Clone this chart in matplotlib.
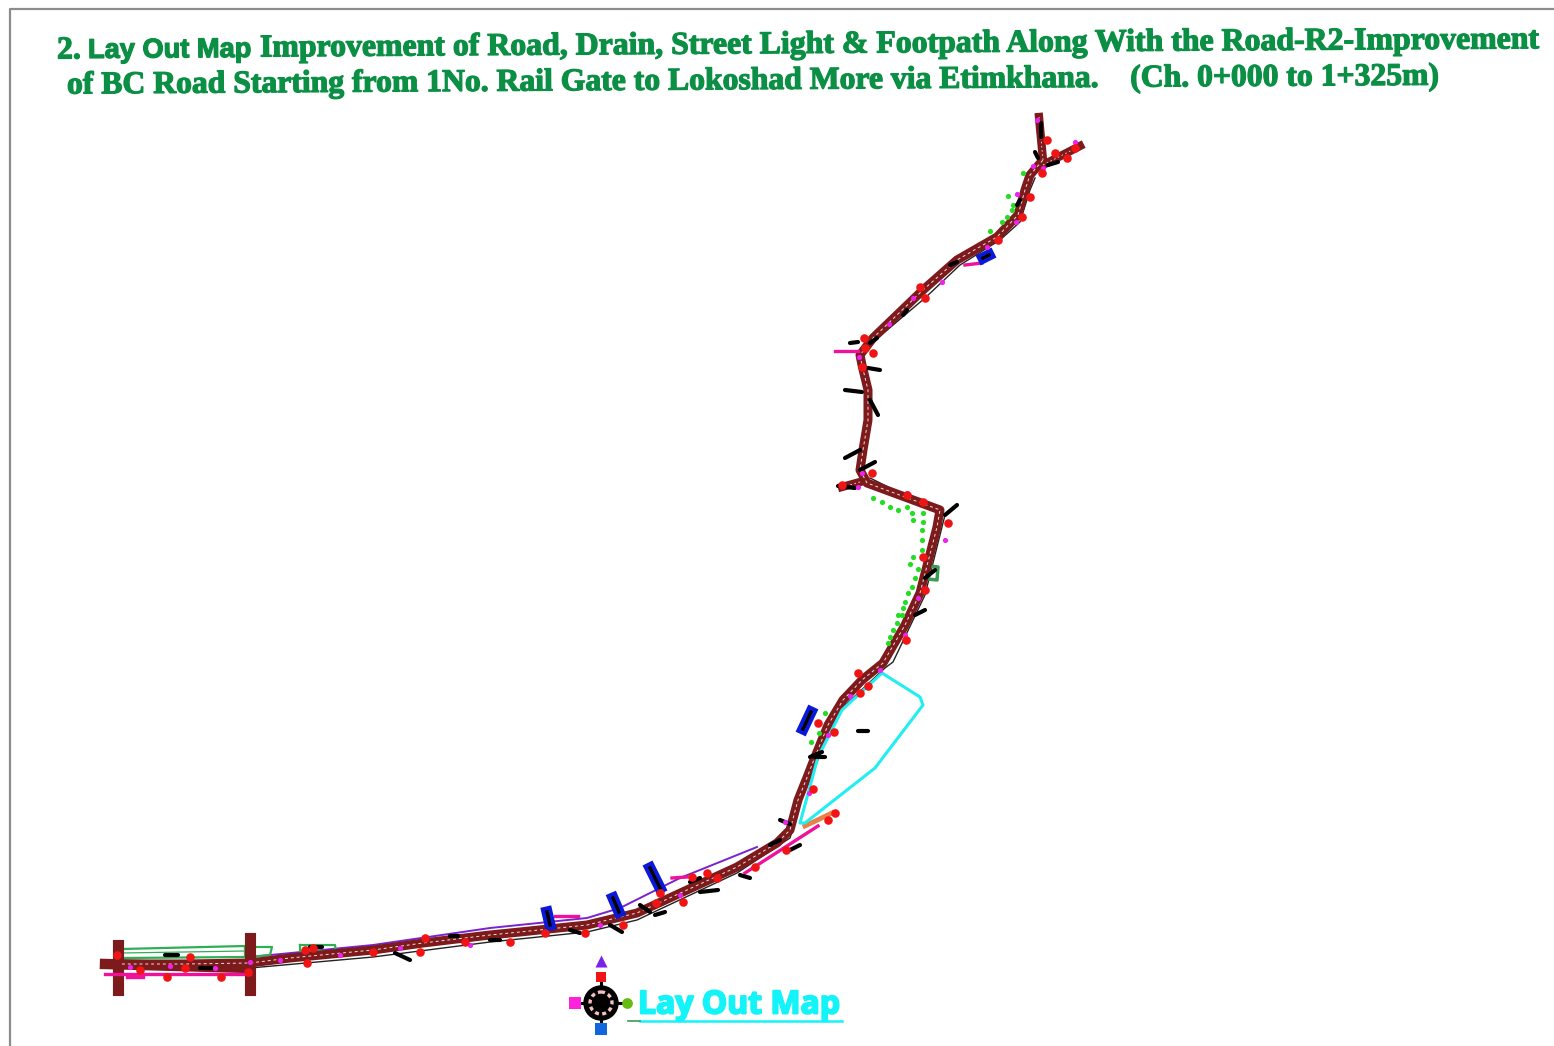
import matplotlib
matplotlib.use('Agg')
import matplotlib.pyplot as plt
import matplotlib.patheffects as pe
from matplotlib.patches import Circle

# everything in pixel positions
road_x = [122, 185, 250, 290, 373, 423, 490, 520, 587, 637, 687, 737, 777, 790, 798, 808, 815, 828, 843, 862, 883, 905, 920, 937, 940, 905, 867, 860, 863, 868, 868, 862, 860, 873, 923, 957, 997, 1018, 1025, 1030, 1043]
road_y = [964, 964, 963, 958, 950, 943, 935, 932, 925, 913, 890, 867, 843, 830, 800, 775, 757, 725, 700, 680, 663, 625, 593, 527, 510, 497, 483, 470, 450, 420, 390, 365, 355, 338, 290, 260, 237, 215, 190, 175, 160]
branch_a_x = [1043, 1039]
branch_a_y = [160, 117]
branch_b_x = [1043, 1080]
branch_b_y = [165, 146]
stub_x = [860, 842]
stub_y = [482, 487]
cross_x = [118, 250]
cross_top = [945, 938]
cross_bottom = [990, 990]

edge_x = [250, 373, 490, 587, 637, 737, 790, 810, 838, 885, 893, 925, 945, 870]
edge_y = [968, 957, 942, 932, 920, 873, 838, 770, 712, 668, 662, 595, 515, 478]
edge_top_x = [873, 925, 960, 1000, 1020, 1030, 1035]
edge_top_y = [342, 298, 265, 240, 222, 190, 178]

cyan_x = [882, 920, 923, 875, 805, 800, 818, 842, 882]
cyan_y = [673, 697, 705, 768, 823, 823, 757, 710, 673]

green_dots_x = [873, 882, 890, 898, 907, 912, 913, 923, 923, 922, 922, 922, 913, 910, 918, 915, 912, 908, 905, 903, 898, 902, 897, 893, 890, 888, 825, 819, 811, 1023, 1008, 1013, 1012, 1007, 1002, 990]
green_dots_y = [498, 502, 507, 510, 507, 513, 520, 513, 522, 530, 540, 550, 557, 564, 569, 578, 587, 593, 602, 608, 615, 615, 623, 630, 637, 643, 713, 733, 742, 173, 196, 205, 210, 217, 222, 231]

red_x = [1047, 1055, 1075, 1067, 1042, 1030, 1022, 998, 920, 925, 864, 865, 873, 862, 872, 842, 907, 923, 948, 923, 925, 906, 858, 868, 860, 834, 818, 813, 828, 835, 786, 755, 717, 707, 692, 683, 660, 656, 623, 585, 545, 510, 465, 425, 420, 373, 313, 307, 305, 248, 221, 190, 185, 167, 140, 117]
red_y = [140, 153, 148, 158, 173, 197, 217, 240, 287, 298, 338, 348, 353, 367, 473, 485, 495, 502, 523, 557, 590, 640, 673, 686, 693, 732, 723, 789, 820, 813, 850, 867, 878, 873, 877, 902, 893, 903, 925, 933, 933, 942, 942, 938, 952, 952, 948, 963, 950, 972, 977, 957, 968, 977, 970, 955]

magenta_dots_x = [1037, 1075, 1033, 1043, 1017, 1016, 987, 942, 913, 889, 859, 862, 858, 907, 945, 918, 905, 880, 850, 828, 809, 785, 680, 600, 470, 400, 340, 280, 250, 215, 170, 130]
magenta_dots_y = [120, 142, 166, 168, 194, 222, 247, 282, 298, 324, 357, 473, 487, 493, 540, 598, 635, 670, 696, 735, 793, 822, 895, 925, 945, 948, 955, 960, 962, 968, 966, 967]

black_x0 = [1041, 1035, 1058, 1020, 957, 907, 877, 850, 868, 845, 870, 845, 860, 838, 945, 925, 915, 858, 780, 790, 740, 700, 640, 610, 580, 395, 310, 165, 200, 490, 655, 690, 450, 810, 815, 770]
black_y0 = [123, 152, 162, 200, 262, 310, 338, 343, 368, 390, 400, 458, 470, 486, 515, 578, 615, 731, 820, 850, 875, 892, 905, 925, 933, 953, 947, 955, 968, 940, 915, 882, 936, 757, 757, 845]
black_x1 = [1041, 1038, 1048, 1017, 950, 903, 870, 858, 880, 862, 878, 860, 875, 855, 957, 935, 925, 868, 790, 800, 750, 718, 650, 622, 570, 410, 322, 178, 212, 500, 665, 700, 458, 822, 825, 780]
black_y1 = [137, 158, 165, 205, 265, 315, 343, 342, 370, 392, 415, 450, 462, 488, 505, 570, 610, 731, 824, 845, 878, 890, 912, 932, 930, 960, 947, 955, 968, 940, 912, 878, 936, 752, 757, 840]

blue_x0 = [803, 650, 613, 547, 983]
blue_y0 = [729, 868, 898, 912, 258]
blue_x1 = [811, 660, 619, 550, 989]
blue_y1 = [712, 888, 912, 925, 255]

pink_x0 = [105, 127, 555, 672, 835, 965, 745]
pink_y0 = [974, 977, 916, 878, 351, 265, 873]
pink_x1 = [250, 143, 578, 687, 858, 982, 818]
pink_y1 = [974, 977, 916, 877, 351, 263, 826]

purple_x = [250, 373, 490, 587, 620, 680, 757]
purple_y = [957, 945, 928, 918, 908, 878, 847]

title_head = "2."
title_lay = "Lay Out Map"
title_1 = "Improvement of Road, Drain, Street Light & Footpath Along With the Road-R2-Improvement"
title_2 = "of BC Road Starting from 1No. Rail Gate to Lokoshad More via Etimkhana.    (Ch. 0+000 to 1+325m)"
map_label = "Lay Out Map"

fig = plt.figure(figsize=(15.54, 10.46), dpi=100)
ax = fig.add_axes([0, 0, 1, 1])
ax.set_xlim(0, 1554)
ax.set_ylim(1046, 0)
ax.axis('off')

# sheet frame
ax.plot([10, 10, 1554], [1046, 9, 9], color='#8c8c8c', lw=1.6)

# thin outlines first, road on top of them
ax.plot(edge_x, edge_y, color='#222222', lw=1.0)
ax.plot(edge_top_x, edge_top_y, color='#222222', lw=1.0)
ax.plot(purple_x, purple_y, color='#7a22d0', lw=1.4)

# green strips beside the road start
ax.plot([122, 245, 245, 122, 122], [949, 946, 957, 958, 949], color='#2fae55', lw=1.6)
ax.plot([122, 245], [953, 951], color='#2fae55', lw=0.9)
ax.plot([245, 272, 270, 250], [947, 947, 955, 957], color='#2fae55', lw=1.6)
ax.plot([300, 335, 336, 300, 300], [945, 945, 951, 951, 945], color='#2fae55', lw=1.6)
ax.plot([930, 938, 937, 928, 930], [566, 567, 580, 579, 566], color='#3f9a55', lw=2.5)

road_col = '#7d1a1c'
ax.plot(road_x, road_y, color=road_col, lw=6.5, solid_joinstyle='round', solid_capstyle='round', zorder=3)
ax.plot(road_x, road_y, color='#f3dede', lw=0.7, ls=(0, (3, 3)), zorder=4)
ax.plot(cyan_x, cyan_y, color='#22eef2', lw=2.2, solid_joinstyle='round', zorder=6)
for xs, ys in [(branch_a_x, branch_a_y), (branch_b_x, branch_b_y), (stub_x, stub_y)]:
    ax.plot(xs, ys, color=road_col, lw=6, zorder=3)
    ax.plot(xs, ys, color='#f3dede', lw=0.6, ls=(0, (2, 3)), zorder=4)
for x, top, bottom in zip(cross_x, cross_top, cross_bottom):
    ax.plot([x, x], [top, bottom], color=road_col, lw=8, zorder=3)
ax.plot([105, 250], [964, 968], color=road_col, lw=7.5, zorder=3)

for x0, y0, x1, y1 in zip(pink_x0, pink_y0, pink_x1, pink_y1):
    ax.plot([x0, x1], [y0, y1], color='#f0109a', lw=2.4, zorder=4)
for x0, y0, x1, y1 in zip(blue_x0, blue_y0, blue_x1, blue_y1):
    ax.plot([x0, x1], [y0, y1], color='#0a18d8', lw=8, zorder=5)
    ax.plot([x0, x1], [y0, y1], color='black', lw=2.4, zorder=5)
for x0, y0, x1, y1 in zip(black_x0, black_y0, black_x1, black_y1):
    ax.plot([x0, x1], [y0, y1], color='black', lw=3, solid_capstyle='round', zorder=6)

ax.scatter(magenta_dots_x, magenta_dots_y, s=14, color='#ee22ee', zorder=6, linewidths=0)
ax.scatter(green_dots_x, green_dots_y, s=14, color='#22dd22', zorder=5, linewidths=0)
ax.scatter(red_x, red_y, s=38, color='#f01414', zorder=7, linewidths=0)
ax.plot([805, 832], [826, 813], color='#e8804a', lw=3.5, zorder=5)

# compass
ax.plot([601, 601], [975, 1030], color='black', lw=2.2, zorder=2)
ax.plot([572, 630], [1003, 1003], color='black', lw=2.2, zorder=2)
ax.add_patch(Circle((601, 1003), 17, fc='black', ec='black', zorder=3))
ax.add_patch(Circle((601, 1003), 11, fc='none', ec='#f6c0c0', lw=2.4, ls=(0, (1.2, 1)), zorder=4))
ax.scatter([601], [961], s=75, marker='^', color='#7a22e8', zorder=4, linewidths=0)
ax.scatter([601], [977], s=60, marker='s', color='#f01414', zorder=4, linewidths=0)
ax.scatter([575], [1003], s=85, marker='s', color='#ff22dd', zorder=4, linewidths=0)
ax.scatter([627], [1003], s=60, marker='o', color='#66bb11', zorder=4, linewidths=0)
ax.scatter([601], [1029], s=70, marker='s', color='#1166dd', zorder=4, linewidths=0)

# titles lean up a little to the right in the scan
heavy = [pe.withStroke(linewidth=0.9, foreground='#0b8f45')]
title_col = '#0b8f45'
ax.text(57, 51, title_head, family='Liberation Serif', weight='bold', fontsize=22.9, color=title_col,
        ha='left', va='center', rotation=0.37, rotation_mode='anchor', path_effects=heavy)
ax.text(88, 51, title_lay, family='Liberation Sans', weight='bold', fontsize=19.6, color=title_col,
        ha='left', va='center', rotation=0.37, rotation_mode='anchor', path_effects=heavy)
ax.text(260, 49, title_1, family='Liberation Serif', weight='bold', fontsize=22.9, color=title_col,
        ha='left', va='center', rotation=0.37, rotation_mode='anchor', path_effects=heavy)
ax.text(67, 86, title_2, family='Liberation Serif', weight='bold', fontsize=22.8, color=title_col,
        ha='left', va='center', rotation=0.37, rotation_mode='anchor', path_effects=heavy)

ax.text(638, 1005, map_label, family='Open Sans', weight='bold', fontsize=23, color='#14f4f8',
        ha='left', va='center', path_effects=[pe.withStroke(linewidth=1.4, foreground='#14f4f8')])
ax.plot([640, 842], [1021, 1021], color='#14f4f8', lw=1.8)
ax.plot([628, 640], [1021, 1021], color='#3f9a55', lw=1.2)

fig.savefig('out.png', dpi=100)
